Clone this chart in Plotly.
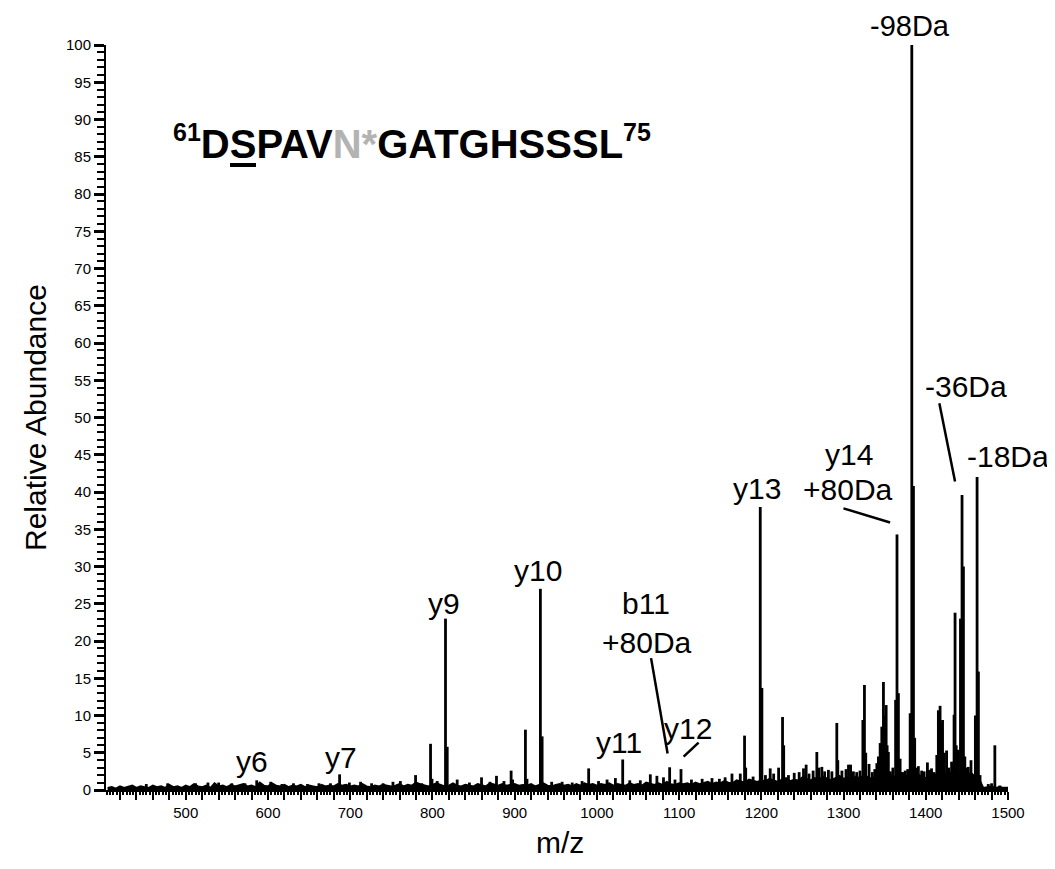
import plotly.graph_objects as go

# ---------------- data ----------------
peak_mz = [452, 478, 512, 527, 540, 556, 572, 586.3, 603.3, 617, 631, 648, 662, 676,
           687.1, 699, 712.6, 726, 740, 752, 761, 779.5, 787, 797.7, 799.5,
           805.8, 815.9, 818, 830.1, 845, 859.7, 870, 877.9, 887, 895.7, 897.5,
           913.1, 915, 931.3, 933.4, 945, 957.7, 970, 982, 990, 1002, 1012.4,
           1022.5, 1031.4, 1040, 1052.8, 1065, 1073, 1081, 1088.5, 1095, 1102.3,
           1115, 1128, 1140, 1149, 1156, 1164.3, 1174.4, 1179.6, 1181, 1190,
           1198.7, 1200.7, 1205, 1210.8, 1215, 1221, 1225.8, 1227.2, 1233, 1240,
           1246, 1251.3, 1254.5, 1258, 1263, 1267.5, 1270, 1273.6, 1277, 1281.6,
           1285.8, 1291.8, 1293, 1298, 1303, 1306, 1308.6, 1312, 1316, 1320,
           1323.5, 1325.4, 1327, 1331, 1335, 1338, 1340.5, 1342.4, 1344.5, 1346.5,
           1348.5, 1350, 1351.8, 1353, 1354.5, 1357, 1360, 1363.3, 1365, 1366.7,
           1368.8, 1372, 1375, 1378, 1381, 1383, 1385, 1386.5, 1388, 1391, 1395,
           1398, 1402, 1404.5, 1407, 1410, 1413.4, 1415.3, 1417.4, 1419, 1420.4,
           1422.5, 1425.3, 1428, 1431.4, 1434.4, 1435.6, 1437, 1439.6, 1442.2,
           1444.1, 1445.8, 1447.5, 1449, 1451.7, 1455, 1460.3, 1462.4, 1464,
           1466, 1476, 1480, 1484, 1490]
peak_int = [0.8, 0.9, 0.9, 1.0, 1.0, 0.9, 0.9, 1.3, 1.1, 0.8, 0.9, 0.8, 0.9, 0.9,
            2.1, 1.0, 1.1, 0.9, 0.9, 1.1, 1.2, 2.0, 0.9, 6.2, 1.5,
            1.2, 23.0, 5.8, 1.4, 1.0, 1.7, 1.1, 1.9, 1.2, 2.6, 1.4,
            8.1, 1.5, 27.0, 7.2, 1.1, 1.1, 1.0, 1.2, 2.9, 1.2, 1.4,
            1.6, 4.1, 1.3, 1.3, 2.1, 1.9, 1.7, 3.05, 1.4, 2.8,
            1.4, 1.5, 1.6, 1.5, 1.7, 2.2, 2.2, 7.3, 3.0, 1.8,
            38.0, 13.7, 2.0, 2.9, 2.2, 3.0, 9.8, 6.0, 2.0, 2.3,
            2.4, 2.9, 3.4, 2.2, 2.6, 5.1, 3.0, 3.1, 2.5, 2.7,
            2.5, 9.0, 4.0, 2.6, 2.8, 3.4, 3.4, 2.5, 2.4, 2.6,
            9.4, 14.1, 5.0, 3.5, 2.4, 2.8, 3.6, 4.5, 6.3, 8.5,
            14.5, 10.0, 11.4, 6.0, 5.1, 2.5, 3.0, 12.1, 34.3, 13.0,
            4.2, 2.4, 2.6, 2.8, 10.3, 100.0, 40.8, 7.0, 3.0, 3.2, 2.6,
            2.5, 3.7, 2.7, 2.9, 2.4, 4.7, 10.7, 11.3, 9.0, 9.4,
            5.0, 5.3, 3.0, 3.8, 10.1, 23.8, 6.0, 5.4, 23.0,
            39.6, 30.0, 4.5, 3.0, 3.1, 4.0, 10.0, 42.0, 15.9,
            2.0, 0.8, 0.9, 6.0, 0.6]

noise_mz = list(range(405, 1501, 5))
noise_int = [
    0.3, 0.4, 0.2, 0.5, 0.3, 0.4, 0.6, 0.3, 0.5, 0.4, 0.3, 0.6, 0.4, 0.5, 0.3, 0.7, 0.4, 0.5, 0.3, 0.6,
    0.4, 0.8, 0.5, 0.4, 0.6, 0.3, 0.9, 0.5, 0.6, 0.4, 0.7, 0.5, 0.6, 0.8, 0.5, 0.6, 0.4, 1.0, 0.6, 0.5,
    0.9, 0.6, 0.5, 0.7, 0.4, 0.6, 0.5, 0.7, 0.4, 0.6, 0.5, 0.4, 0.7, 0.5, 0.6, 0.5, 0.8, 0.6, 0.7, 0.5,
    0.6, 0.5, 0.8, 0.5, 0.4, 0.6, 0.5, 0.7, 0.6, 0.5, 0.6, 0.8, 0.5, 0.7, 0.6, 1.0, 0.8, 0.6, 0.5, 0.7,
    0.9, 0.7, 0.5, 0.6, 0.9, 0.6, 0.5, 0.7, 0.6, 0.5, 0.8, 0.6, 0.5, 0.9, 0.7, 0.6, 0.8, 0.6, 0.7, 0.8,
    0.6, 0.7, 0.6, 0.8, 0.5, 0.7, 0.9, 0.6, 0.5, 0.7, 0.8, 0.6, 0.7, 0.5, 0.8, 0.6, 0.9, 0.7, 0.8, 0.6,
    0.8, 0.7, 0.9, 0.6, 0.8, 0.7, 0.6, 0.9, 0.7, 0.8, 0.6, 1.0, 0.8, 0.7, 0.9, 0.7, 1.1, 0.8, 0.7, 0.9,
    0.8, 0.9, 0.7, 1.0, 0.8, 0.9, 1.1, 0.8, 1.0, 0.9, 1.2, 1.0, 0.9, 1.3, 1.1, 1.0, 1.4, 1.2, 1.1, 1.3,
    1.2, 1.5, 1.3, 1.1, 1.4, 1.6, 1.2, 1.4, 1.3, 1.7, 1.5, 1.3, 1.6, 1.4, 1.8, 1.5, 1.3, 1.6, 1.9, 1.5,
    1.7, 1.4, 1.8, 1.6, 2.0, 1.7, 1.5, 1.9, 2.2, 1.8, 2.1, 1.7, 1.9, 2.3, 1.8, 2.0, 1.7, 2.1, 1.8, 1.6,
    1.9, 2.2, 1.8, 2.4, 2.0, 2.3, 1.9, 2.5, 2.1, 2.0, 2.3, 1.8, 1.5, 0.3, 0.4, 0.5, 0.3, 0.4, 0.3, 0.3,
]

x_range = [403, 1500]
y_range = [0, 100]
x_major = list(range(420, 1501, 20))
x_label_every = 100
y_major = list(range(0, 101, 5))

# ---------------- figure ----------------
FONT = "Liberation Sans, Arial, Helvetica, sans-serif"
PAGE_OFFSET = 8          # default body margin of the html page
W, H = 1055 - PAGE_OFFSET, 869 - 2 * PAGE_OFFSET
PL, PT, PR, PB = 106, 45, 1008, 790   # plot box in page pixels
PW, PH = PR - PL, PB - PT


def px_to_paper(xp, yp):
    return (xp - PL) / PW, (PB - yp) / PH


stick_x, stick_y = [], []
for m, h in zip(peak_mz, peak_int):
    stick_x += [m, m, None]
    stick_y += [0, h, None]

fig = go.Figure()
fig.add_trace(go.Scatter(x=noise_mz, y=noise_int, mode="lines", fill="tozeroy",
                         line=dict(color="black", width=1.8), fillcolor="black",
                         hoverinfo="skip", showlegend=False))
fig.add_trace(go.Scatter(x=stick_x, y=stick_y, mode="lines",
                         line=dict(color="black", width=2.8),
                         showlegend=False))

fig.update_xaxes(range=x_range, showgrid=False, zeroline=False,
                 showline=True, linecolor="black", linewidth=2,
                 ticks="outside", ticklen=8, tickwidth=2, tickcolor="black",
                 tickmode="array", tickvals=x_major,
                 ticktext=[str(v) if v % x_label_every == 0 else "" for v in x_major],
                 tickfont=dict(family=FONT, size=15, color="black"),
                 minor=dict(ticks="outside", dtick=4, tick0=400, ticklen=3,
                            tickwidth=1.5, tickcolor="black"))
fig.update_yaxes(range=y_range, showgrid=False, zeroline=False,
                 showline=True, linecolor="black", linewidth=2,
                 ticks="outside", ticklen=10, tickwidth=2.5, tickcolor="black",
                 tickmode="array", tickvals=y_major,
                 tickfont=dict(family=FONT, size=15, color="black"),
                 minor=dict(ticks="outside", dtick=1, tick0=0, ticklen=7,
                            tickwidth=2, tickcolor="black"))

lab_font = dict(family=FONT, size=30, color="black")
labels = [
    ("-36Da", 1448.4, 54.2), ("-18Da", 1499.4, 44.8),
    ("y14", 1306.2, 45.0), ("+80Da", 1305.6, 40.4), ("y13", 1194.6, 40.5),
    ("y10", 928.9, 29.4), ("y9", 813.5, 25.1), ("b11", 1059.8, 25.1),
    ("+80Da", 1061.4, 19.8), ("y12", 1110.4, 8.3), ("y11", 1027.3, 6.4),
    ("y7", 688.3, 4.4), ("y6", 581.0, 3.8),
]
for t, xx, yy in labels:
    fig.add_annotation(x=xx, y=yy, text=t, showarrow=False, font=lab_font,
                       xanchor="center", yanchor="middle")

# label above the plot box (outside the y range -> paper coordinates)
lx, ly = px_to_paper(0, 26)
fig.add_annotation(x=1380.9, y=ly, xref="x", yref="paper", text="-98Da",
                   showarrow=False, font=dict(family=FONT, size=29, color="black"),
                   xanchor="center", yanchor="middle")

leaders = [
    (1299.9, 37.8, 1356.6, 35.9),   # y14 +80Da
    (1416.5, 51.9, 1435.6, 41.4),   # -36Da
    (1065.9, 17.7, 1086.0, 4.9),    # b11 +80Da
    (1123.7, 6.35, 1105.5, 4.47),   # y12
]
for x0, y0, x1, y1 in leaders:
    fig.add_shape(type="line", x0=x0, y0=y0, x1=x1, y1=y1, xref="x", yref="y",
                  line=dict(color="black", width=2.5))

title_html = ("<sup><span style='font-size:25px'>61</span></sup>DSPAV"
              "<span style='color:#b3b3b3'>N*</span>GATGHSSSL"
              "<sup><span style='font-size:25px'>75</span></sup>")
tx, ty = px_to_paper(411.5, 142)
fig.add_annotation(x=tx, y=ty, xref="paper", yref="paper",
                   text="<b>" + title_html + "</b>", showarrow=False,
                   font=dict(family=FONT, size=40, color="black"),
                   xanchor="center", yanchor="middle")
# thick underline below the phosphorylated S
ux0, uy = px_to_paper(230, 165)
ux1, _ = px_to_paper(256, 165)
fig.add_shape(type="line", xref="paper", yref="paper", x0=ux0, x1=ux1, y0=uy, y1=uy,
              line=dict(color="black", width=4))

mx, my = px_to_paper(560, 842)
fig.add_annotation(x=mx, y=my, xref="paper", yref="paper",
                   text="m/z", showarrow=False, font=dict(family=FONT, size=30, color="black"),
                   xanchor="center", yanchor="middle")
rx, ry = px_to_paper(35, 418)
fig.add_annotation(x=rx, y=ry, xref="paper", yref="paper",
                   text="Relative Abundance", showarrow=False, textangle=-90,
                   font=dict(family=FONT, size=30, color="black"),
                   xanchor="center", yanchor="middle")

fig.update_layout(width=W, height=H, plot_bgcolor="white", paper_bgcolor="white",
                  margin=dict(l=PL - PAGE_OFFSET, r=W - (PR - PAGE_OFFSET),
                              t=PT - PAGE_OFFSET, b=H - (PB - PAGE_OFFSET)),
                  showlegend=False)

fig.write_html("out.html")
